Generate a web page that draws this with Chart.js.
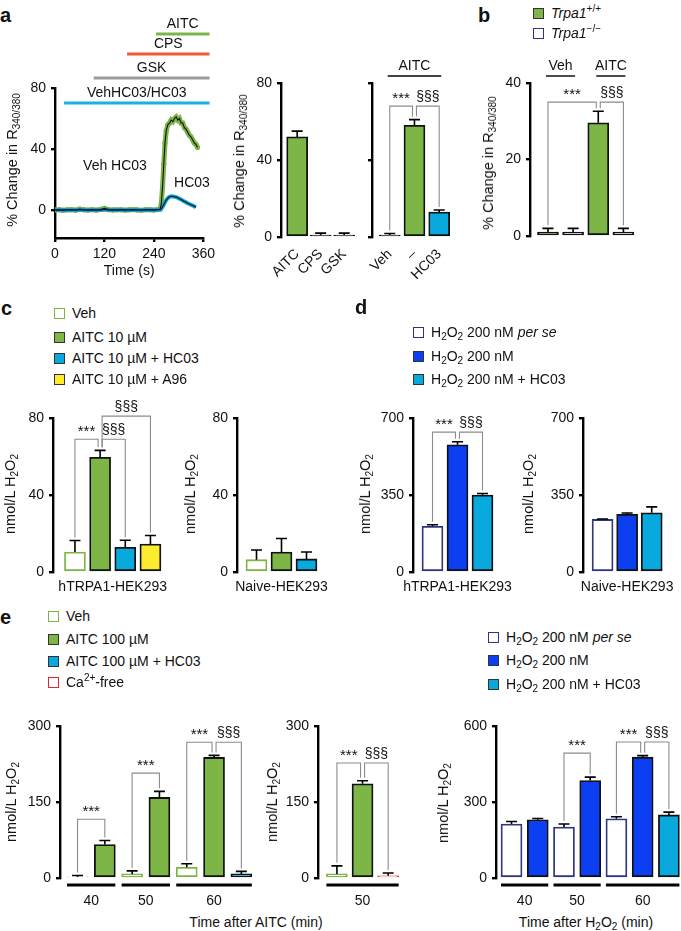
<!DOCTYPE html>
<html>
<head>
<meta charset="utf-8">
<script src="https://cdn.jsdelivr.net/npm/chart.js@4.4.1/dist/chart.umd.min.js"></script>
<style>
  body { margin: 0; width: 681px; height: 931px; position: relative; overflow: hidden; background: #fff;
         font-family: 'Liberation Sans', Arial, Helvetica, sans-serif; color: #111; }
  canvas { position: absolute; }
  .t { position: absolute; white-space: nowrap; font-size: 14px; transform: translate(0, -50%); }
  .tc { position: absolute; white-space: nowrap; font-size: 14px; transform: translate(-50%, -50%); }
  .tv { position: absolute; white-space: nowrap; font-size: 14.5px; transform: translate(-50%, -50%) rotate(-90deg); }
  .pl { position: absolute; font-size: 20px; font-weight: bold; transform: translate(0, -50%); }
  .sq { display: inline-block; width: 9px; height: 9px; border: 1.4px solid #333; vertical-align: -1px; margin-right: 7px; }
  sub { font-size: 10px; vertical-align: -3px; line-height: 0; }
  sup { font-size: 10px; vertical-align: 6px; line-height: 0; }
</style>
</head>
<body>
<canvas id="a1"></canvas>
<canvas id="a2"></canvas>
<canvas id="a3"></canvas>
<canvas id="b"></canvas>
<canvas id="c1"></canvas>
<canvas id="c2"></canvas>
<canvas id="d1"></canvas>
<canvas id="d2"></canvas>
<canvas id="e1"></canvas>
<canvas id="e2"></canvas>
<canvas id="e3"></canvas>
<script>
// ---- data ----
// a: Ca2+ traces, % change in R340/380
const traceTime = [0,10,20,30,40,50,60,70,80,90,100,110,120,130,140,150,160,170,180,190,200,210,220,230,240,250,
                   255,258,261,264,267,270,274,278,282,286,290,294,298,302,306,310,314,318,322,326,330,334,338,342,346];
const traceVehHC03 = [0,0.2,-0.3,0.1,0.3,-0.2,0.6,0.1,-0.1,0.2,-0.2,0.3,1.0,0.2,-0.1,0.1,0.2,-0.2,0.1,0.3,0,-0.2,0.2,0.1,-0.1,0.3,
                      0.5,4,15,30,44,52,56,57,59,58,60,61,59,60,57,57,54,53,51,49,48,46,44,43,41];
const traceHC03 = [0,-0.1,0.1,0,-0.2,0.1,0,0.1,-0.1,0,0.1,-0.1,0.3,0,0.1,-0.1,0,0.1,0,-0.1,0.1,0,0,0.1,-0.1,0.1,
                   0.2,0.8,2,3.5,5,6.5,7.8,8.6,9,8.9,8.7,8.4,8,7.4,6.8,6.2,5.6,5,4.4,3.9,3.4,2.9,2.4,1.8,null];
const aTreatments = ['AITC', 'CPS', 'GSK', 'VehHC03/HC03'];
const aTreatStart = [245, 175, 94, 22];
const aTreatEnd = 375;

// a: peak responses
const a2Labels = ['AITC', 'CPS', 'GSK'];
const a2Mean = [52, 1, 1];
const a2Sem = [3, 1, 1];
const a3Labels = ['Veh', '–', 'HC03'];
const a3Mean = [1, 58, 13];
const a3Sem = [0.8, 3, 1];

// b: Trpa1+/+ vs Trpa1-/- (Veh, Veh, AITC, AITC)
const bMean = [1, 1, 29.6, 1];
const bSem = [1, 1, 3, 1];

// c: H2O2 release with AITC 10 uM
const c1Mean = [10.4, 59.6, 12.8, 14.5];
const c1Sem = [6, 3.6, 3.7, 4.5];
const c2Mean = [6.4, 10.4, 6.8];
const c2Sem = [5, 7, 3.6];

// d: H2O2 200 nM
const d1Mean = [208, 578, 350];
const d1Sem = [7, 14, 7];
const d2Mean = [239, 262, 269];
const d2Sem = [2, 6, 27];

// e: time course
const eTimes = ['40', '50', '60'];
const e1Mean = [2, 66, 8, 159, 21, 238, 8];
const e1Sem = [3, 8, 6, 12, 7, 4, 5];
const e2Mean = [8, 186, 4.5];
const e2Sem = [16, 6, 5.5];
const e3Mean = [213, 230, 201, 385, 234, 477, 249];
const e3Sem = [10, 5, 12, 13, 8, 6, 11];

// ---- styles ----
Chart.defaults.font.family = "'Liberation Sans', Arial, Helvetica, sans-serif";
Chart.defaults.font.size = 14;
Chart.defaults.color = '#111';
Chart.defaults.animation = false;

const GREEN = '#7db547', CYAN = '#0aa9dd', BLUE = '#0c3ff2', YELLOW = '#fdeb2f', NAVY = '#2d3581', RED = '#e3242b', GRAY = '#8c8c8c';
const fills = {veh: '#fff', aitc: GREEN, hc03: CYAN, a96: YELLOW, perse: '#fff', h2o2: BLUE, ca: '#fff', ko: '#fff', dark: '#333'};
const edges = {veh: GREEN, aitc: '#111', hc03: '#111', a96: '#111', perse: NAVY, h2o2: '#111', ca: RED, ko: '#111', dark: '#111'};

function sizeCanvas(id, L, T, W, H) {
  const cv = document.getElementById(id);
  W = Math.round(W); H = Math.round(H);
  cv.style.left = L + 'px'; cv.style.top = T + 'px';
  cv.style.width = W + 'px'; cv.style.height = H + 'px';
  cv.width = W; cv.height = H;
  return cv;
}

// error bars, significance brackets and group labels, placed through the chart scales
function annotations(cfg) {
  return {
    id: 'annot',
    afterDraw(chart) {
      const {ctx, chartArea} = chart;
      const x = chart.scales.x, y = chart.scales.y;
      const tip = i => y.getPixelForValue(cfg.mean[i] + cfg.sem[i]);
      ctx.save();
      ctx.strokeStyle = '#000';
      ctx.lineWidth = 1.6;
      cfg.mean.forEach((m, i) => {
        const px = x.getPixelForValue(i);
        ctx.beginPath();
        ctx.moveTo(px, y.getPixelForValue(m));
        ctx.lineTo(px, tip(i));
        ctx.moveTo(px - 5.5, tip(i));
        ctx.lineTo(px + 5.5, tip(i));
        ctx.stroke();
      });
      const stats = cfg.stats || [];
      const uses = {};
      stats.forEach(s => { uses[s[0]] = (uses[s[0]] || 0) + 1; uses[s[1]] = (uses[s[1]] || 0) + 1; });
      ctx.textAlign = 'center';
      ctx.textBaseline = 'bottom';
      ctx.fillStyle = '#111';
      stats.forEach(([a, b, lvl, txt]) => {
        const aHub = cfg.mean[a] + cfg.sem[a] > cfg.mean[b] + cfg.sem[b];
        let xa = x.getPixelForValue(a), xb = x.getPixelForValue(b);
        if (aHub && uses[a] > 1) xa += 2;
        if (!aHub && uses[b] > 1) xb -= 2;
        const yl = y.getPixelForValue(lvl);
        ctx.strokeStyle = GRAY;
        ctx.lineWidth = 1.1;
        ctx.beginPath();
        ctx.moveTo(xa, tip(a) - 3);
        ctx.lineTo(xa, yl);
        ctx.lineTo(xb, yl);
        ctx.lineTo(xb, tip(b) - 3);
        ctx.stroke();
        ctx.font = (txt === '***' ? '15px' : '14px') + " 'Liberation Sans', Arial, sans-serif";
        ctx.fillText(txt, (xa + xb) / 2, yl - (txt === '***' ? 0 : 2));
      });
      // treatment labels above the bars
      (cfg.groups || []).forEach(([a, b, txt]) => {
        const ly = chartArea.top - 7;
        const xa = x.getPixelForValue(a) - 2, xb = x.getPixelForValue(b) + 2;
        ctx.strokeStyle = '#000';
        ctx.lineWidth = 1.4;
        ctx.beginPath();
        ctx.moveTo(xa, ly);
        ctx.lineTo(xb, ly);
        ctx.stroke();
        ctx.font = "14px 'Liberation Sans', Arial, sans-serif";
        ctx.fillText(txt, (xa + xb) / 2, ly - 3);
      });
      // time-point underlines (panel e)
      if (cfg.groupOf) {
        ctx.strokeStyle = '#000';
        ctx.lineWidth = 3;
        const ng = Math.max(...cfg.groupOf) + 1;
        for (let g = 0; g < ng; g++) {
          const idx = cfg.groupOf.map((v, i) => v === g ? i : -1).filter(i => i >= 0);
          const ly = chartArea.bottom + 7;
          ctx.beginPath();
          ctx.moveTo(x.getPixelForValue(idx[0]) - 10.5, ly);
          ctx.lineTo(x.getPixelForValue(idx[idx.length - 1]) + 10.5, ly);
          ctx.stroke();
        }
      }
      ctx.restore();
    }
  };
}

function barChart(id, geo, cfg) {
  const yw = 45, padTop = 48, padRight = geo.padRight || 6, xh = geo.xh;
  const xmin = -geo.lead / geo.step, xmax = cfg.mean.length - 0.5;
  const right = geo.ax + (xmax - xmin) * geo.step;
  const L = geo.ax - yw, T = geo.top - padTop;
  const cv = sizeCanvas(id, L, T, right - L + padRight, geo.bot - T + xh);
  const rot = geo.rot || 0;
  return new Chart(cv, {
    type: 'bar',
    data: {
      datasets: [{
        data: cfg.mean.map((v, i) => ({x: i, y: v})),
        backgroundColor: cfg.kinds.map(k => fills[k]),
        borderColor: cfg.kinds.map(k => edges[k]),
        borderWidth: 1.8,
        borderSkipped: false,
        barThickness: 21
      }]
    },
    options: {
      responsive: false,
      animation: false,
      layout: {padding: {top: padTop, right: padRight, left: 0, bottom: 0}},
      plugins: {legend: {display: false}, tooltip: {enabled: false}},
      scales: {
        x: {
          type: 'linear', min: xmin, max: xmax, offset: false,
          border: {display: false},
          grid: {display: false, offset: false, drawTicks: false, tickLength: 0},
          afterBuildTicks: s => { s.ticks = cfg.ticks.map(v => ({value: v})); },
          afterFit: s => { s.height = xh; },
          ticks: {autoSkip: false, padding: geo.tickPad, minRotation: rot, maxRotation: rot,
                  callback: (v, i) => cfg.tickLabels[i]}
        },
        y: {
          min: 0, max: geo.yMax,
          afterBuildTicks: s => { s.ticks = [0, geo.yMax / 2, geo.yMax].map(v => ({value: v})); },
          afterFit: s => { s.width = yw; },
          border: {display: true, color: '#000', width: 2.4},
          grid: {display: true, drawOnChartArea: false, drawTicks: true, tickLength: 4, color: '#000', lineWidth: 2.4},
          ticks: {display: geo.showY !== false, padding: 5}
        }
      }
    },
    plugins: [annotations(cfg)]
  });
}

// ---- panel a: traces ----
(function () {
  const ax = 55, top = 88, bot = 238, right = 205, yw = 35, padTop = 73, padRight = 14, xh = 42;
  const L = ax - yw, T = top - padTop;
  const cv = sizeCanvas('a1', L, T, right - L + padRight, bot - T + xh);
  const pts = arr => traceTime.map((t, i) => ({x: t, y: arr[i]}));
  const treatColors = [GREEN, '#f0583a', '#9a9a9a', '#1ab0e0'];
  const treatOffset = [-54, -34, -10, 15];
  new Chart(cv, {
    type: 'line',
    data: {
      datasets: [
        {data: pts(traceVehHC03), borderColor: '#111', borderWidth: 1.1, pointRadius: 0, order: 0},
        {data: pts(traceHC03), borderColor: '#111', borderWidth: 1.1, pointRadius: 0, order: 0},
        {data: pts(traceHC03), borderColor: CYAN, borderWidth: 4, pointRadius: 0, order: 1},
        {data: pts(traceVehHC03), borderColor: GREEN, borderWidth: 5, pointRadius: 2.6, pointBorderWidth: 0,
         pointBackgroundColor: GREEN, order: 2}
      ]
    },
    options: {
      responsive: false,
      animation: false,
      layout: {padding: {top: padTop, right: padRight, left: 0, bottom: 0}},
      plugins: {legend: {display: false}, tooltip: {enabled: false}},
      scales: {
        x: {
          type: 'linear', min: 0, max: 360,
          afterBuildTicks: s => { s.ticks = [0, 120, 240, 360].map(v => ({value: v})); },
          afterFit: s => { s.height = xh; },
          border: {display: true, color: '#000', width: 2.4},
          grid: {display: true, drawOnChartArea: false, drawTicks: true, tickLength: 4, color: '#000', lineWidth: 2.4},
          ticks: {padding: 4},
          title: {display: true, text: 'Time (s)', padding: {top: 0, bottom: 0}, font: {size: 14}}
        },
        y: {
          min: -18.4, max: 80,
          afterBuildTicks: s => { s.ticks = [0, 40, 80].map(v => ({value: v})); },
          afterFit: s => { s.width = yw; },
          border: {display: true, color: '#000', width: 2.4},
          grid: {display: true, drawOnChartArea: false, drawTicks: true, tickLength: 4, color: '#000', lineWidth: 2.4},
          ticks: {padding: 5}
        }
      }
    },
    plugins: [{
      id: 'treat',
      afterDraw(chart) {
        const {ctx, chartArea} = chart;
        const x = chart.scales.x;
        ctx.save();
        ctx.textAlign = 'center';
        ctx.textBaseline = 'bottom';
        ctx.fillStyle = '#111';
        ctx.font = "14px 'Liberation Sans', Arial, sans-serif";
        aTreatments.forEach((name, i) => {
          const x0 = x.getPixelForValue(aTreatStart[i]), x1 = x.getPixelForValue(aTreatEnd);
          const ly = chartArea.top + treatOffset[i];
          ctx.strokeStyle = treatColors[i];
          ctx.lineWidth = 3;
          ctx.beginPath();
          ctx.moveTo(x0, ly);
          ctx.lineTo(x1, ly);
          ctx.stroke();
          ctx.fillText(name, (x0 + x1) / 2, ly - 3);
        });
        ctx.restore();
      }
    }]
  });
})();

// ---- bar panels ----
barChart('a2', {ax: 281, top: 83, bot: 237, yMax: 80, step: 24.75, lead: 17, rot: 45, xh: 55, tickPad: 9},
  {mean: a2Mean, sem: a2Sem, kinds: ['aitc', 'dark', 'dark'], ticks: [0, 1, 2], tickLabels: a2Labels});
barChart('a3', {ax: 372, top: 83, bot: 237, yMax: 80, step: 25.75, lead: 18.5, rot: 45, xh: 55, tickPad: 9, showY: false},
  {mean: a3Mean, sem: a3Sem, kinds: ['dark', 'aitc', 'hc03'], ticks: [0, 1, 2], tickLabels: a3Labels,
   stats: [[0, 1, 68, '***'], [1, 2, 68, '§§§']], groups: [[0, 2, 'AITC']]});
barChart('b', {ax: 530, top: 83, bot: 236, yMax: 40, step: 25.2, lead: 18, xh: 20, tickPad: 3},
  {mean: bMean, sem: bSem, kinds: ['aitc', 'ko', 'aitc', 'ko'], ticks: [], tickLabels: [],
   stats: [[0, 2, 35, '***'], [2, 3, 35, '§§§']], groups: [[0, 1, 'Veh'], [2, 3, 'AITC']]});
barChart('c1', {ax: 53, top: 418, bot: 572, yMax: 80, step: 25.2, lead: 22, xh: 25, tickPad: 7, padRight: 60},
  {mean: c1Mean, sem: c1Sem, kinds: ['veh', 'aitc', 'hc03', 'a96'], ticks: [1.5], tickLabels: ['hTRPA1-HEK293'],
   stats: [[0, 1, 69, '***'], [1, 2, 69, '§§§'], [1, 3, 81, '§§§']]});
barChart('c2', {ax: 237, top: 418, bot: 572, yMax: 80, step: 25, lead: 19.5, xh: 25, tickPad: 7, padRight: 60},
  {mean: c2Mean, sem: c2Sem, kinds: ['veh', 'aitc', 'hc03'], ticks: [1], tickLabels: ['Naive-HEK293']});
barChart('d1', {ax: 413, top: 418, bot: 572, yMax: 700, step: 25, lead: 19.5, xh: 25, tickPad: 7, padRight: 60},
  {mean: d1Mean, sem: d1Sem, kinds: ['perse', 'h2o2', 'hc03'], ticks: [1], tickLabels: ['hTRPA1-HEK293'],
   stats: [[0, 1, 636, '***'], [1, 2, 636, '§§§']]});
barChart('d2', {ax: 583, top: 418, bot: 572, yMax: 700, step: 24.5, lead: 19.5, xh: 25, tickPad: 7, padRight: 60},
  {mean: d2Mean, sem: d2Sem, kinds: ['perse', 'h2o2', 'hc03'], ticks: [1], tickLabels: ['Naive-HEK293']});
barChart('e1', {ax: 60, top: 726, bot: 878, yMax: 300, step: 27.25, lead: 17.5, xh: 35, tickPad: 15},
  {mean: e1Mean, sem: e1Sem, kinds: ['veh', 'aitc', 'veh', 'aitc', 'veh', 'aitc', 'hc03'], ticks: [0.5, 2.5, 5], tickLabels: eTimes,
   groupOf: [0, 0, 1, 1, 2, 2, 2],
   stats: [[0, 1, 116, '***'], [2, 3, 207, '***'], [4, 5, 268, '***'], [5, 6, 268, '§§§']]});
barChart('e2', {ax: 318, top: 726, bot: 878, yMax: 300, step: 25.75, lead: 19, xh: 35, tickPad: 15},
  {mean: e2Mean, sem: e2Sem, kinds: ['veh', 'aitc', 'ca'], ticks: [1], tickLabels: ['50'],
   groupOf: [0, 0, 0], stats: [[0, 1, 227, '***'], [1, 2, 227, '§§§']]});
barChart('e3', {ax: 496, top: 726, bot: 878, yMax: 600, step: 26.17, lead: 15.5, xh: 35, tickPad: 15},
  {mean: e3Mean, sem: e3Sem, kinds: ['perse', 'h2o2', 'perse', 'h2o2', 'perse', 'h2o2', 'hc03'], ticks: [0.5, 2.5, 5], tickLabels: eTimes,
   groupOf: [0, 0, 1, 1, 2, 2, 2],
   stats: [[2, 3, 493, '***'], [4, 5, 537, '***'], [5, 6, 537, '§§§']]});

// ---- text: panel letters, axis titles, legends ----
function put(cls, html, x, y) {
  const el = document.createElement('div');
  el.className = cls;
  el.innerHTML = html;
  el.style.left = x + 'px';
  el.style.top = y + 'px';
  document.body.appendChild(el);
}
const rTitle = '% Change in R<sub>340/380</sub>';
const hTitle = 'nmol/L H<sub>2</sub>O<sub>2</sub>';
const H2O2 = 'H<sub>2</sub>O<sub>2</sub>';

put('pl', 'a', 0, 15); put('pl', 'b', 478, 15); put('pl', 'c', 1, 308); put('pl', 'd', 355, 307); put('pl', 'e', 0, 617);
put('tv', rTitle, 12, 160); put('tv', rTitle, 239, 161); put('tv', rTitle, 488, 163);
put('tv', hTitle, 10, 494); put('tv', hTitle, 190, 494); put('tv', hTitle, 365, 494); put('tv', hTitle, 528, 494);
put('tv', hTitle, 11, 802); put('tv', hTitle, 272, 802); put('tv', hTitle, 443, 803);
put('tc', 'Veh HC03', 115, 165); put('tc', 'HC03', 192, 182);
put('tc', 'Time after AITC (min)', 256, 922);
put('tc', 'Time after ' + H2O2 + ' (min)', 586, 922);

function legend(x, ys, items) {
  items.forEach(([kind, border, html], i) => {
    put('t', '<span class="sq" style="background:' + fills[kind] + ';border-color:' + border + '"></span>' + html, x, ys[i]);
  });
}
legend(533, [13, 33], [['aitc', '#333', '<i>Trpa1</i><sup>+/+</sup>'], ['ko', NAVY, '<i>Trpa1</i><sup>−/−</sup>']]);
legend(54, [313, 337, 358, 379], [['veh', GREEN, 'Veh'], ['aitc', '#333', 'AITC 10 µM'],
  ['hc03', '#333', 'AITC 10 µM + HC03'], ['a96', '#333', 'AITC 10 µM + A96']]);
legend(413, [332, 356, 379], [['perse', NAVY, H2O2 + ' 200 nM <i>per se</i>'], ['h2o2', '#333', H2O2 + ' 200 nM'],
  ['hc03', '#333', H2O2 + ' 200 nM + HC03']]);
legend(48, [616, 639, 661, 682], [['veh', GREEN, 'Veh'], ['aitc', '#333', 'AITC 100 µM'],
  ['hc03', '#333', 'AITC 100 µM + HC03'], ['ca', RED, 'Ca<sup>2+</sup>-free']]);
legend(488, [637, 660, 684], [['perse', NAVY, H2O2 + ' 200 nM <i>per se</i>'], ['h2o2', '#333', H2O2 + ' 200 nM'],
  ['hc03', '#333', H2O2 + ' 200 nM + HC03']]);
</script>
</body>
</html>
